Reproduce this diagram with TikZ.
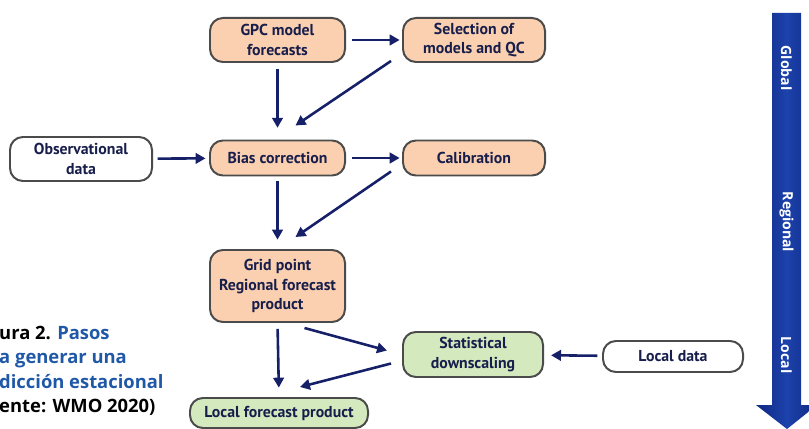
\documentclass[tikz,border=0pt]{standalone}
\usepackage{fontspec}
\usepackage{tikz}
\usetikzlibrary{arrows.meta, positioning, calc}
\setmainfont{Open Sans}
\newfontfamily\boxfont{PT Sans}
\definecolor{StepPeach}{RGB}{250, 208, 176}
\definecolor{StepGreen}{RGB}{212, 234, 190}
\definecolor{StepEdge}{RGB}{75, 75, 75}
\definecolor{StepText}{RGB}{24, 30, 75}
\definecolor{FlowNavy}{RGB}{22, 32, 105}
\definecolor{BandBlue}{RGB}{28, 66, 172}
\definecolor{BandDark}{RGB}{16, 40, 130}
\definecolor{CaptionBlue}{RGB}{32, 88, 168}

\begin{document}
\begin{tikzpicture}[x=0.03cm, y=-0.03cm,
    stepbox/.style={draw=StepEdge, line width=1.7pt, rounded corners=11pt, align=center,
        text=StepText, font=\boxfont\bfseries\fontsize{13.5}{16.5}\selectfont, inner sep=2pt},
    peach/.style={stepbox, fill=StepPeach},
    green/.style={stepbox, fill=StepGreen},
    plain/.style={stepbox, fill=white},
    flow/.style={draw=FlowNavy, line width=2.2pt, -{Triangle[length=8.5pt, width=9pt]}},
    band/.style={rotate=-90, text=white, font=\bfseries\fontsize{12}{14}\selectfont}]
    \useasboundingbox (0,0) rectangle (809,429);

    % steps
    \node[peach, minimum width=4.05cm, minimum height=1.32cm] (gpc) at (277.5,40) {GPC model\\forecasts};
    \node[peach, minimum width=4.26cm, minimum height=1.32cm] (sel) at (474,40) {Selection of\\models and QC};
    \node[plain, minimum width=4.26cm, minimum height=1.32cm] (obs) at (81,159) {Observational\\data};
    \node[peach, minimum width=4.05cm, minimum height=1.05cm] (bias) at (277.5,158) {Bias correction};
    \node[peach, minimum width=4.26cm, minimum height=1.05cm] (calib) at (474,158) {Calibration};
    \node[peach, minimum width=4.05cm, minimum height=2.16cm] (grid) at (277.5,286) {Grid point\\Regional forecast\\product};
    \node[green, minimum width=4.2cm, minimum height=1.35cm] (stat) at (473,354.5) {Statistical\\downscaling};
    \node[plain, minimum width=4.2cm, minimum height=0.93cm] (ldata) at (673,356.5) {Local data};
    \node[green, minimum width=5.34cm, minimum height=0.9cm] (lfc) at (279,413) {Local forecast product};

    % ends of the slanted arrows
    \coordinate (selout) at ($(sel.south west)+(-11,-2)$);
    \coordinate (biasin) at ($(bias.north)+(18,-14)$);
    \coordinate (calout) at ($(calib.south west)+(-11,-5)$);
    \coordinate (gridin) at ($(grid.north)+(18,-12)$);
    \coordinate (gridout) at ($(grid.south)+(27,5)$);
    \coordinate (statin) at ($(stat.west)+(-15,-4)$);
    \coordinate (statout) at ($(stat.west)+(-11,9)$);
    \coordinate (lfcin) at ($(lfc.north)+(21,-10)$);

    \draw[flow, shorten <=5pt, shorten >=2pt] (gpc) -- (sel);
    \draw[flow, shorten <=5pt, shorten >=10pt] (gpc) -- (bias);
    \draw[flow] (selout) -- (biasin);
    \draw[flow, shorten <=4pt, shorten >=3pt] (obs) -- (bias);
    \draw[flow, shorten <=5pt, shorten >=2pt] (bias) -- (calib);
    \draw[flow, shorten <=4pt, shorten >=8pt] (bias) -- (grid);
    \draw[flow] (calout) -- (gridin);
    \draw[flow] (gridout) -- (statin);
    \draw[flow, shorten <=5pt, shorten >=8pt] (grid.south) -- (lfc.north);
    \draw[flow] (statout) -- (lfcin);
    \draw[flow, shorten <=4pt, shorten >=6pt] (ldata) -- (stat);

    % scale band
    \shade[left color=BandDark, right color=BandDark, middle color=BandBlue]
        (772,13) -- (801,13) -- (801,405) -- (817,405) -- (787,429) -- (756,405) -- (772,405) -- cycle;
    \node[band] (global) at (786.5,68) {Global};
    \node[band] (regional) at (786.5,222) {Regional};
    \node[band] (local) at (786.5,355) {Local};

    % caption
    \node[anchor=north west, align=left, inner sep=0pt, text=CaptionBlue,
        font=\bfseries\fontsize{15.7}{20.7}\selectfont] (cap) at (-1,326)
        {{\color{black}ura 2.} Pasos\\a generar una\\dicción estacional\\{\color{black}ente: WMO 2020)}};
\end{tikzpicture}
\end{document}
